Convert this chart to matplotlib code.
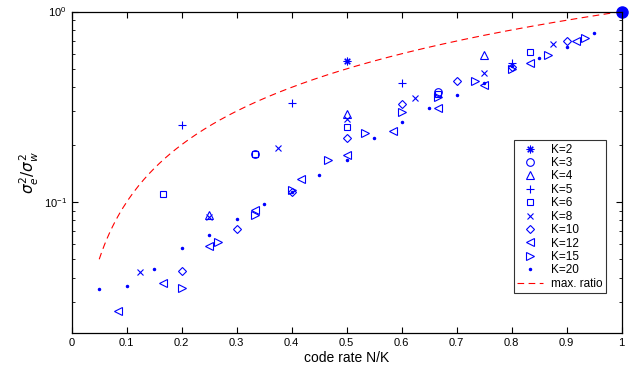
import numpy as np
import matplotlib
matplotlib.use("Agg")
import matplotlib.pyplot as plt

plt.rcParams['font.family'] = ['Liberation Sans', 'DejaVu Sans']
plt.rcParams['mathtext.fontset'] = 'dejavusans'

# measured noise ratio for each K, at code rate N/K
k2_rate = [1/2, 1]
k2_val = [0.549, 1.0]
k3_rate = [1/3, 2/3, 1]
k3_val = [0.178, 0.378, 1.0]
k4_rate = [1/4, 2/4, 3/4, 1]
k4_val = [0.085, 0.289, 0.59, 1.0]
k5_rate = [1/5, 2/5, 3/5, 4/5, 1]
k5_val = [0.255, 0.331, 0.419, 0.535, 1.0]
k6_rate = [1/6, 2/6, 3/6, 4/6, 5/6, 1]
k6_val = [0.1095, 0.178, 0.246, 0.37, 0.61, 1.0]
k8_rate = [1/8, 2/8, 3/8, 4/8, 5/8, 6/8, 7/8, 1]
k8_val = [0.0427, 0.083, 0.193, 0.271, 0.352, 0.476, 0.672, 1.0]
k10_rate = [0.2, 0.3, 0.4, 0.5, 0.6, 0.7, 0.8, 0.9, 1]
k10_val = [0.0436, 0.0717, 0.1127, 0.217, 0.325, 0.431, 0.51, 0.699, 1.0]
k12_rate = [1/12, 2/12, 3/12, 4/12, 5/12, 6/12, 7/12, 8/12, 9/12, 10/12, 11/12, 1]
k12_val = [0.0266, 0.0376, 0.0585, 0.0902, 0.1325, 0.176, 0.236, 0.313, 0.41, 0.538, 0.70, 1.0]
k15_rate = [3/15, 4/15, 5/15, 6/15, 7/15, 8/15, 9/15, 10/15, 11/15, 12/15, 13/15, 14/15, 1]
k15_val = [0.0354, 0.0614, 0.0849, 0.115, 0.167, 0.229, 0.297, 0.356, 0.431, 0.496, 0.59, 0.728, 1.0]
k20_rate = [0.05, 0.10, 0.15, 0.20, 0.25, 0.30, 0.35, 0.40, 0.45, 0.50,
            0.55, 0.60, 0.65, 0.70, 0.75, 0.80, 0.85, 0.90, 0.95, 1]
k20_val = [0.0351, 0.0362, 0.0445, 0.0576, 0.0672, 0.0809, 0.097, 0.113, 0.139, 0.167,
           0.217, 0.263, 0.313, 0.364, 0.42, 0.515, 0.567, 0.653, 0.774, 1.0]

# max. ratio curve (ratio equals code rate)
max_rate = np.linspace(0.05, 1, 200)
max_ratio = max_rate

fig = plt.figure(figsize=(6.42, 3.71), dpi=100)
ax = fig.add_axes([0.1117, 0.1024, 0.8567, 0.8666])

ms = 5.5
mw = 0.8
ax.plot(k2_rate, k2_val, marker=(8, 2, 0), ls='none', color='b', ms=ms, mew=mw, label='K=2')
ax.plot(k3_rate, k3_val, 'o', color='b', mfc='none', ms=ms, mew=mw, label='K=3')
ax.plot(k4_rate, k4_val, '^', color='b', mfc='none', ms=ms + 0.5, mew=mw, label='K=4')
ax.plot(k5_rate, k5_val, '+', color='b', ms=ms + 0.5, mew=mw, label='K=5')
ax.plot(k6_rate, k6_val, 's', color='b', mfc='none', ms=ms - 0.5, mew=mw, label='K=6')
ax.plot(k8_rate, k8_val, 'x', color='b', ms=ms - 1.5, mew=mw, label='K=8')
ax.plot(k10_rate, k10_val, 'D', color='b', mfc='none', ms=ms - 1, mew=mw, label='K=10')
ax.plot(k12_rate, k12_val, '<', color='b', mfc='none', ms=ms + 0.5, mew=mw, label='K=12')
ax.plot(k15_rate, k15_val, '>', color='b', mfc='none', ms=ms + 0.5, mew=mw, label='K=15')
ax.plot(k20_rate, k20_val, '.', color='b', ms=3, label='K=20')
ax.plot(max_rate, max_ratio, '--', color='r', lw=0.8, dashes=(6, 4), label='max. ratio')

# blob of overlapping markers at (1,1)
ax.plot([1], [1], 'o', color='b', ms=8, clip_on=False)

ax.set_yscale('log')
ax.set_xlim(0, 1)
ax.set_ylim(0.0205, 1)
ax.set_xticks(np.arange(0, 1.01, 0.1))
ax.set_xticklabels(['0', '0.1', '0.2', '0.3', '0.4', '0.5', '0.6', '0.7', '0.8', '0.9', '1'])
ax.tick_params(which='both', direction='in', top=True, right=True, labelsize=8)
ax.tick_params(which='major', length=4)
ax.tick_params(which='minor', length=2)
for s in ax.spines.values():
    s.set_linewidth(0.9)

ax.set_xlabel('code rate N/K', fontsize=10, labelpad=2)
ax.set_ylabel(r'$\sigma_e^2/\sigma_w^2$', fontsize=11, labelpad=2)

leg = ax.legend(loc='upper left', bbox_to_anchor=(0.804, 0.6), fontsize=8.5,
                frameon=True, fancybox=False, edgecolor='k', borderpad=0.3,
                labelspacing=0.12, handlelength=2.2, handletextpad=0.6,
                borderaxespad=0)
leg.get_frame().set_linewidth(0.8)

fig.savefig('out.png', dpi=100)
